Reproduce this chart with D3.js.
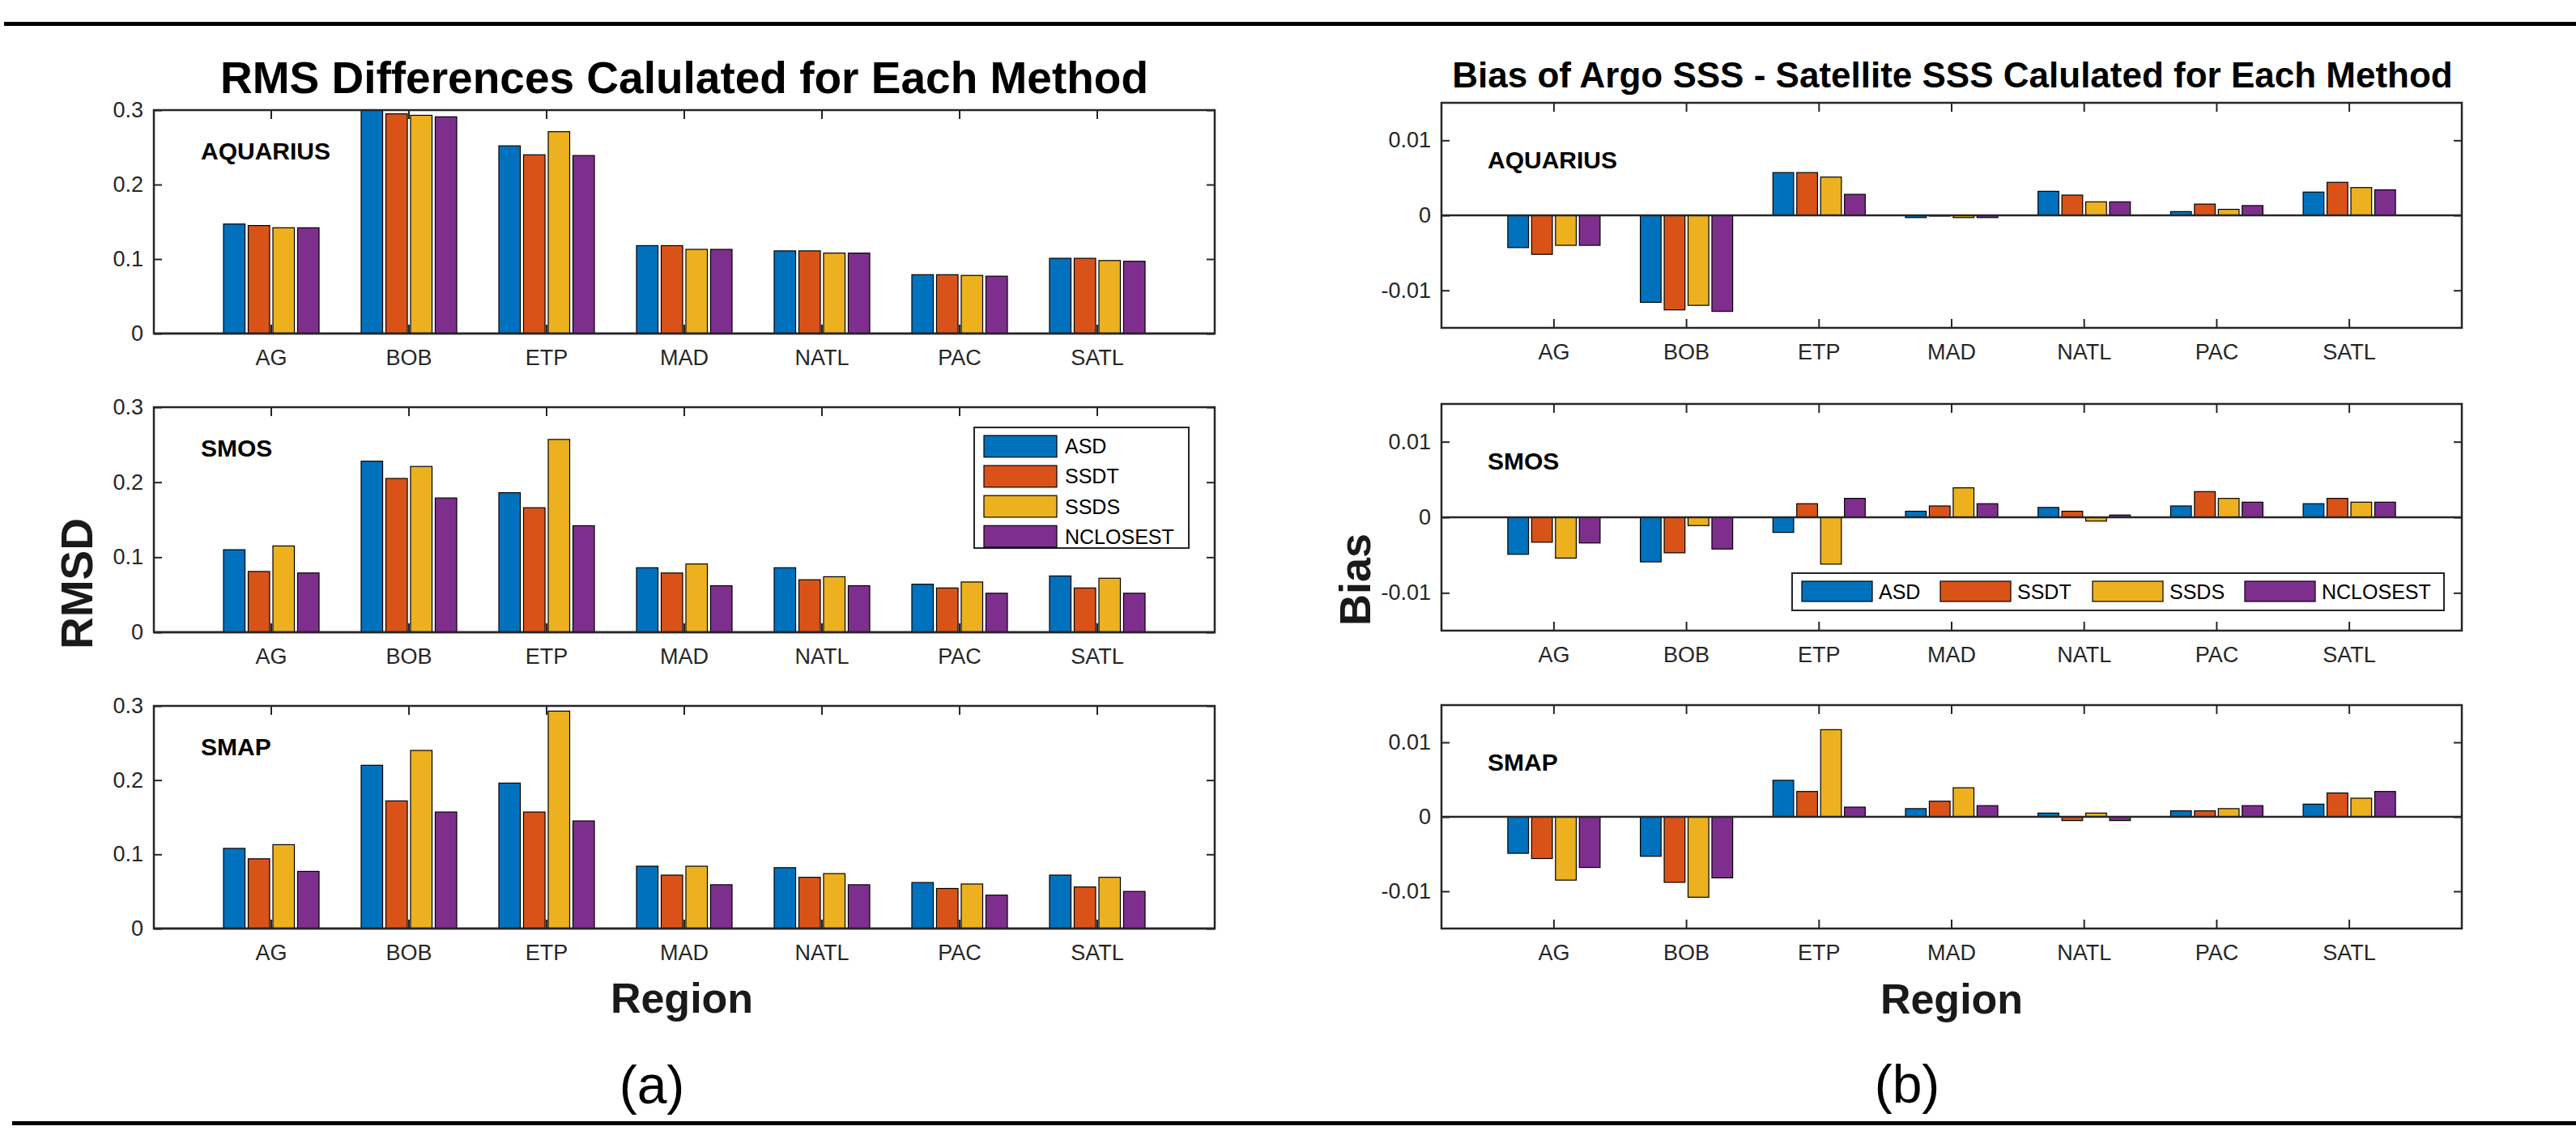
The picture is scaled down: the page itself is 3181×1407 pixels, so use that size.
<!DOCTYPE html>
<html>
<head>
<meta charset="utf-8">
<script src="https://cdn.jsdelivr.net/npm/d3@7"></script>
<style>
  body { margin: 0; background: #fff; }
  svg { display: block; font-family: "Liberation Sans", Arial, Helvetica, sans-serif; }
</style>
</head>
<body>
<svg id="chart"></svg>
<script>
const regions = ["AG", "BOB", "ETP", "MAD", "NATL", "PAC", "SATL"];
const methods = ["ASD", "SSDT", "SSDS", "NCLOSEST"];
const colors = ["#0072BD", "#D95319", "#EDB120", "#7E2F8E"];
const satellites = ["AQUARIUS", "SMOS", "SMAP"];

// RMSD, one row per region: ASD, SSDT, SSDS, NCLOSEST
const rmsdAquarius = [
  [0.147, 0.145, 0.142, 0.142],
  [0.302, 0.295, 0.293, 0.291],
  [0.252, 0.240, 0.271, 0.239],
  [0.118, 0.118, 0.113, 0.113],
  [0.111, 0.111, 0.108, 0.108],
  [0.079, 0.079, 0.078, 0.077],
  [0.101, 0.101, 0.098, 0.097]
];
const rmsdSmos = [
  [0.110, 0.081, 0.115, 0.079],
  [0.228, 0.205, 0.221, 0.179],
  [0.186, 0.166, 0.257, 0.142],
  [0.086, 0.079, 0.091, 0.062],
  [0.086, 0.070, 0.074, 0.062],
  [0.064, 0.059, 0.067, 0.052],
  [0.075, 0.059, 0.072, 0.052]
];
const rmsdSmap = [
  [0.108, 0.094, 0.113, 0.077],
  [0.220, 0.172, 0.240, 0.157],
  [0.196, 0.157, 0.293, 0.145],
  [0.084, 0.072, 0.084, 0.059],
  [0.082, 0.069, 0.074, 0.059],
  [0.062, 0.054, 0.060, 0.045],
  [0.072, 0.056, 0.069, 0.050]
];

// Bias (Argo SSS - satellite SSS)
const biasAquarius = [
  [-0.0043, -0.0052, -0.0040, -0.0040],
  [-0.0116, -0.0126, -0.0120, -0.0128],
  [0.0057, 0.0057, 0.0051, 0.0028],
  [-0.0003, -0.0001, -0.0003, -0.0003],
  [0.0032, 0.0027, 0.0018, 0.0018],
  [0.0005, 0.0015, 0.0008, 0.0013],
  [0.0031, 0.0044, 0.0037, 0.0034]
];
const biasSmos = [
  [-0.0049, -0.0033, -0.0054, -0.0034],
  [-0.0059, -0.0047, -0.0011, -0.0042],
  [-0.0020, 0.0018, -0.0062, 0.0025],
  [0.0008, 0.0015, 0.0039, 0.0018],
  [0.0013, 0.0008, -0.0005, 0.0003],
  [0.0015, 0.0034, 0.0025, 0.0020],
  [0.0018, 0.0025, 0.0020, 0.0020]
];
const biasSmap = [
  [-0.0049, -0.0056, -0.0085, -0.0068],
  [-0.0053, -0.0088, -0.0108, -0.0082],
  [0.0049, 0.0034, 0.0117, 0.0013],
  [0.0011, 0.0021, 0.0039, 0.0015],
  [0.0005, -0.0005, 0.0005, -0.0005],
  [0.0008, 0.0008, 0.0011, 0.0015],
  [0.0017, 0.0032, 0.0025, 0.0034]
];

const rmsdTicks = [0, 0.1, 0.2, 0.3];
const biasTicks = [-0.01, 0, 0.01];

const W = 3181, H = 1407;
const axisColor = "#262626";
const svg = d3.select("#chart").attr("width", W).attr("height", H);

svg.append("rect").attr("width", W).attr("height", H).attr("fill", "#fff");

// horizontal rules of the figure frame
svg.append("rect").attr("x", 5).attr("y", 27).attr("width", W - 5).attr("height", 5).attr("fill", "#000");
svg.append("rect").attr("x", 15).attr("y", 1385).attr("width", W - 15).attr("height", 5).attr("fill", "#000");

const fmtTick = (d) => (d === 0 ? "0" : String(d).replace("\u2212", "-"));

let clipId = 0;

function drawPanel(opt) {
  const { x0, x1, top, bottom, domain, ticks, data, label, labelDx, labelDy, step, group } = opt;
  const g = svg.append("g");

  const x = d3.scaleBand().domain(regions).range([x0, x1])
    .paddingInner(1 - group / step)
    .paddingOuter(((x1 - x0) / step - regions.length + (1 - group / step)) / 2);
  const xs = d3.scaleBand().domain(methods).range([0, x.bandwidth()]).paddingInner(0.13);
  const y = d3.scaleLinear().domain(domain).range([bottom, top]);

  const id = "clip" + (clipId++);
  g.append("clipPath").attr("id", id)
    .append("rect").attr("x", x0).attr("y", top).attr("width", x1 - x0).attr("height", bottom - top);

  const bars = g.append("g").attr("clip-path", `url(#${id})`);
  const groups = bars.selectAll("g.region")
    .data(data)
    .join("g")
    .attr("transform", (d, i) => `translate(${x(regions[i])},0)`);

  groups.selectAll("rect")
    .data((row) => row.map((v, j) => ({ v, m: methods[j], c: colors[j] })))
    .join("rect")
    .attr("x", (d) => xs(d.m))
    .attr("width", xs.bandwidth())
    .attr("y", (d) => y(Math.max(0, d.v)))
    .attr("height", (d) => Math.abs(y(d.v) - y(0)))
    .attr("fill", (d) => d.c)
    .attr("stroke", "#000")
    .attr("stroke-width", 1.2);

  // baseline at zero
  g.append("line")
    .attr("x1", x0).attr("x2", x1)
    .attr("y1", y(0)).attr("y2", y(0))
    .attr("stroke", axisColor).attr("stroke-width", 2.5);

  // y axes (left labelled, right ticks only)
  const yl = g.append("g").attr("transform", `translate(${x0},0)`)
    .call(d3.axisLeft(y).tickValues(ticks).tickFormat(fmtTick).tickSize(-10).tickPadding(13));
  const yr = g.append("g").attr("transform", `translate(${x1},0)`)
    .call(d3.axisRight(y).tickValues(ticks).tickFormat("").tickSize(-10));

  // x axes (bottom labelled, top ticks only)
  const xb = g.append("g").attr("transform", `translate(0,${bottom})`)
    .call(d3.axisBottom(x).tickSize(-11).tickPadding(20));
  const xt = g.append("g").attr("transform", `translate(0,${top})`)
    .call(d3.axisTop(x).tickFormat("").tickSize(-11));

  [yl, yr, xb, xt].forEach((a) => {
    a.select(".domain").remove();
    a.selectAll(".tick line").attr("stroke", axisColor).attr("stroke-width", 2);
    a.selectAll(".tick text").attr("fill", axisColor).attr("font-size", 27)
      .attr("font-family", "'Liberation Sans', Arial, sans-serif");
  });

  g.append("rect")
    .attr("x", x0).attr("y", top)
    .attr("width", x1 - x0).attr("height", bottom - top)
    .attr("fill", "none").attr("stroke", axisColor).attr("stroke-width", 2.5);

  g.append("text")
    .attr("x", x0 + labelDx).attr("y", top + labelDy)
    .attr("font-size", 30).attr("font-weight", "bold").attr("fill", "#000")
    .text(label);
}

const leftTops = [136, 503, 872], leftBottoms = [412, 781, 1147];
const rightTops = [127, 499, 871], rightBottoms = [405, 779, 1147];
const rmsdData = [rmsdAquarius, rmsdSmos, rmsdSmap];
const biasData = [biasAquarius, biasSmos, biasSmap];

satellites.forEach((s, i) => {
  drawPanel({
    x0: 190, x1: 1500, top: leftTops[i], bottom: leftBottoms[i],
    domain: [0, 0.3], ticks: rmsdTicks, data: rmsdData[i], label: s,
    labelDx: 58, labelDy: 61, step: 170, group: 118
  });
  drawPanel({
    x0: 1780, x1: 3040, top: rightTops[i], bottom: rightBottoms[i],
    domain: [-0.015, 0.015], ticks: biasTicks, data: biasData[i], label: s,
    labelDx: 57, labelDy: 81, step: 163.7, group: 114
  });
});

// titles and axis labels
svg.append("text").attr("x", 845).attr("y", 115).attr("text-anchor", "middle")
  .attr("font-size", 55).attr("font-weight", "bold").text("RMS Differences Calulated for Each Method");
svg.append("text").attr("x", 2411).attr("y", 108).attr("text-anchor", "middle")
  .attr("font-size", 44).attr("font-weight", "bold").text("Bias of Argo SSS - Satellite SSS Calulated for Each Method");

svg.append("text").attr("transform", "translate(114,721) rotate(-90)").attr("text-anchor", "middle")
  .attr("font-size", 55).attr("font-weight", "bold").attr("fill", "#1a1a1a").text("RMSD");
svg.append("text").attr("transform", "translate(1692,716) rotate(-90)").attr("text-anchor", "middle")
  .attr("font-size", 54).attr("font-weight", "bold").attr("fill", "#1a1a1a").text("Bias");

svg.append("text").attr("x", 842).attr("y", 1251).attr("text-anchor", "middle")
  .attr("font-size", 52).attr("font-weight", "bold").attr("fill", "#1a1a1a").text("Region");
svg.append("text").attr("x", 2410).attr("y", 1252).attr("text-anchor", "middle")
  .attr("font-size", 52).attr("font-weight", "bold").attr("fill", "#1a1a1a").text("Region");

svg.append("text").attr("x", 805).attr("y", 1363).attr("text-anchor", "middle")
  .attr("font-size", 66).text("(a)");
svg.append("text").attr("x", 2355).attr("y", 1362).attr("text-anchor", "middle")
  .attr("font-size", 66).text("(b)");

// legend in left SMOS panel (vertical)
const legL = svg.append("g");
legL.append("rect").attr("x", 1203).attr("y", 528).attr("width", 265).attr("height", 149)
  .attr("fill", "#fff").attr("stroke", axisColor).attr("stroke-width", 2);
const legLRow = d3.scaleBand().domain(methods).range([538, 676]).paddingInner(0.28);
methods.forEach((m, j) => {
  legL.append("rect").attr("x", 1215).attr("y", legLRow(m)).attr("width", 90).attr("height", legLRow.bandwidth())
    .attr("fill", colors[j]).attr("stroke", "#000").attr("stroke-width", 1.2);
  legL.append("text").attr("x", 1315).attr("y", legLRow(m) + legLRow.bandwidth() / 2)
    .attr("dy", "0.36em").attr("font-size", 25).attr("fill", "#000").text(m);
});

// legend in right SMOS panel (horizontal)
const legR = svg.append("g");
legR.append("rect").attr("x", 2213).attr("y", 708).attr("width", 805).attr("height", 46)
  .attr("fill", "#fff").attr("stroke", axisColor).attr("stroke-width", 2);
const legRX = [2225, 2396, 2584, 2772];
methods.forEach((m, j) => {
  legR.append("rect").attr("x", legRX[j]).attr("y", 718).attr("width", 87).attr("height", 25)
    .attr("fill", colors[j]).attr("stroke", "#000").attr("stroke-width", 1.2);
  legR.append("text").attr("x", legRX[j] + 95).attr("y", 730.5)
    .attr("dy", "0.36em").attr("font-size", 25).attr("fill", "#000").text(m);
});
</script>
</body>
</html>
